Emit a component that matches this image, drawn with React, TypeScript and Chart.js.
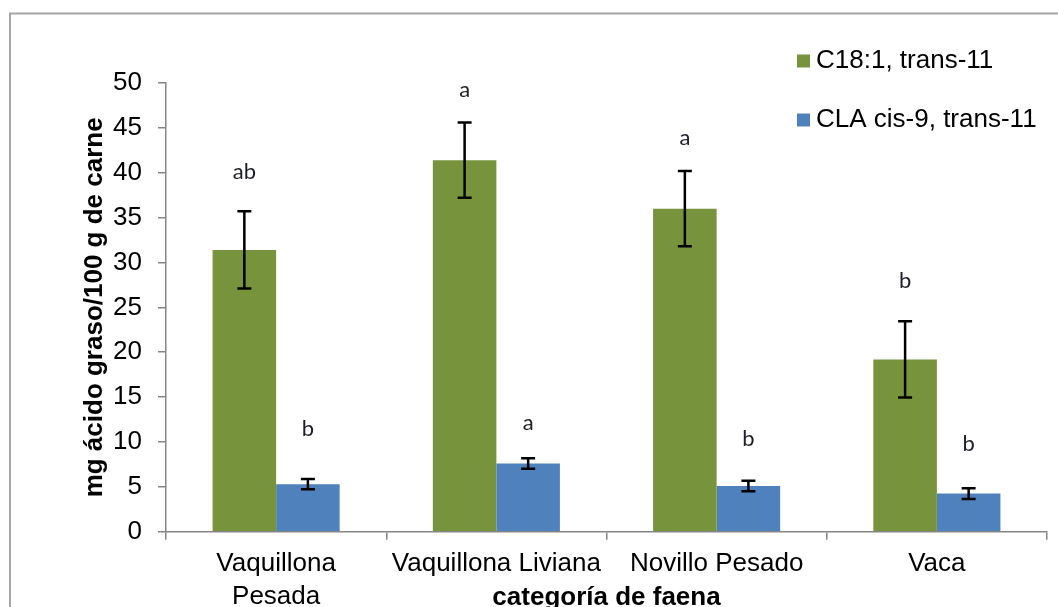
import React, { useEffect, useRef } from "react";
import { Chart, registerables } from "chart.js";

Chart.register(...registerables);

const categories: (string | string[])[] = [["Vaquillona", "Pesada"], "Vaquillona Liviana", "Novillo Pesado", "Vaca"];
const seriesNames = ["C18:1, trans-11", "CLA cis-9, trans-11"];
const c18Values = [31.4, 41.4, 36.0, 19.2];
const c18Errors = [4.3, 4.2, 4.2, 4.25];
const claValues = [5.3, 7.6, 5.1, 4.25];
const claErrors = [0.58, 0.58, 0.58, 0.6];
const c18Letters = ["ab", "a", "a", "b"];
const claLetters = ["b", "a", "b", "b"];
const c18LetterY = [40.1, 49.2, 43.9, 27.9];
const claLetterY = [11.4, 12.1, 10.3, 9.8];
const yAxisTitle = "mg ácido graso/100 g de carne";
const xAxisTitle = "categoría de faena";
const colors = ["#77933C", "#4F81BD"];

const FONT = "'Liberation Sans', Arial, sans-serif";
const AXIS_GRAY = "#868686";

const extras = {
  id: "extras",
  afterDraw(chart: any) {
    const { ctx, chartArea, scales } = chart;
    const y = scales.y;
    ctx.save();
    // outer frame
    ctx.strokeStyle = "#A6A6A6";
    ctx.lineWidth = 2;
    ctx.strokeRect(10, 13.5, 2000, 2000);

    // error bars + letters
    const series = [
      { vals: c18Values, errs: c18Errors, letters: c18Letters, ly: c18LetterY },
      { vals: claValues, errs: claErrors, letters: claLetters, ly: claLetterY },
    ];
    series.forEach((s, di) => {
      const meta = chart.getDatasetMeta(di);
      meta.data.forEach((bar: any, i: number) => {
        const cx = bar.x;
        const top = y.getPixelForValue(s.vals[i] + s.errs[i]);
        const bot = y.getPixelForValue(s.vals[i] - s.errs[i]);
        ctx.strokeStyle = "#000";
        ctx.lineWidth = 2.5;
        ctx.beginPath();
        ctx.moveTo(cx, top);
        ctx.lineTo(cx, bot);
        ctx.moveTo(cx - 7, top);
        ctx.lineTo(cx + 7, top);
        ctx.moveTo(cx - 7, bot);
        ctx.lineTo(cx + 7, bot);
        ctx.stroke();
        ctx.fillStyle = "#1e1e2a";
        ctx.font = "22px Lato, 'Open Sans', sans-serif";
        ctx.textAlign = "center";
        ctx.textBaseline = "middle";
        ctx.fillText(s.letters[i], cx, y.getPixelForValue(s.ly[i]));
      });
    });

    // axis titles
    ctx.fillStyle = "#000";
    ctx.font = `bold 26px ${FONT}`;
    ctx.textAlign = "center";
    ctx.textBaseline = "middle";
    ctx.save();
    ctx.translate(95, (chartArea.top + chartArea.bottom) / 2);
    ctx.rotate(-Math.PI / 2);
    ctx.fillText(yAxisTitle, 0, 0);
    ctx.restore();
    ctx.fillText(xAxisTitle, (chartArea.left + chartArea.right) / 2, chartArea.bottom + 66);

    // legend
    ctx.font = `26px ${FONT}`;
    ctx.textAlign = "left";
    const rows = [61, 120];
    seriesNames.forEach((name, i) => {
      ctx.fillStyle = colors[i];
      ctx.fillRect(797, rows[i] - 6.5, 13, 13);
      ctx.fillStyle = "#000";
      ctx.fillText(name, 816, rows[i]);
    });
    ctx.restore();
  },
};

export default function App() {
  const ref = useRef<HTMLCanvasElement>(null);
  useEffect(() => {
    if (!ref.current) return;
    const chart = new Chart(ref.current, {
      type: "bar",
      data: {
        labels: categories,
        datasets: [
          { label: seriesNames[0], data: c18Values, backgroundColor: colors[0], borderWidth: 0 },
          { label: seriesNames[1], data: claValues, backgroundColor: colors[1], borderWidth: 0 },
        ],
      },
      options: {
        animation: false,
        responsive: true,
        maintainAspectRatio: false,
        layout: { padding: { left: 0, right: 11, top: 83, bottom: 0 } },
        datasets: { bar: { categoryPercentage: 0.577, barPercentage: 1 } },
        plugins: { legend: { display: false }, tooltip: { enabled: false } },
        scales: {
          x: {
            afterFit: (s: any) => {
              s.height = 75.3;
            },
            grid: { offset: true, drawOnChartArea: false, tickLength: 8, color: AXIS_GRAY, lineWidth: 1.5 },
            border: { color: AXIS_GRAY, width: 1.5 },
            ticks: {
              padding: 8,
              color: "#000",
              maxRotation: 0,
              autoSkip: false,
              font: { family: FONT, size: 26, lineHeight: 1.25 },
            },
          },
          y: {
            min: 0,
            max: 50,
            afterFit: (s: any) => {
              s.width = 166;
            },
            grid: { drawOnChartArea: false, tickLength: 8, color: AXIS_GRAY, lineWidth: 1.5 },
            border: { color: AXIS_GRAY, width: 1.5 },
            ticks: { stepSize: 5, padding: 16, color: "#000", font: { family: FONT, size: 26 } },
          },
        },
      },
      plugins: [extras],
    });
    return () => chart.destroy();
  }, []);
  return (
    <div style={{ position: "absolute", left: 0, top: 0, width: 1058, height: 607, background: "#fff" }}>
      <canvas ref={ref} />
    </div>
  );
}
